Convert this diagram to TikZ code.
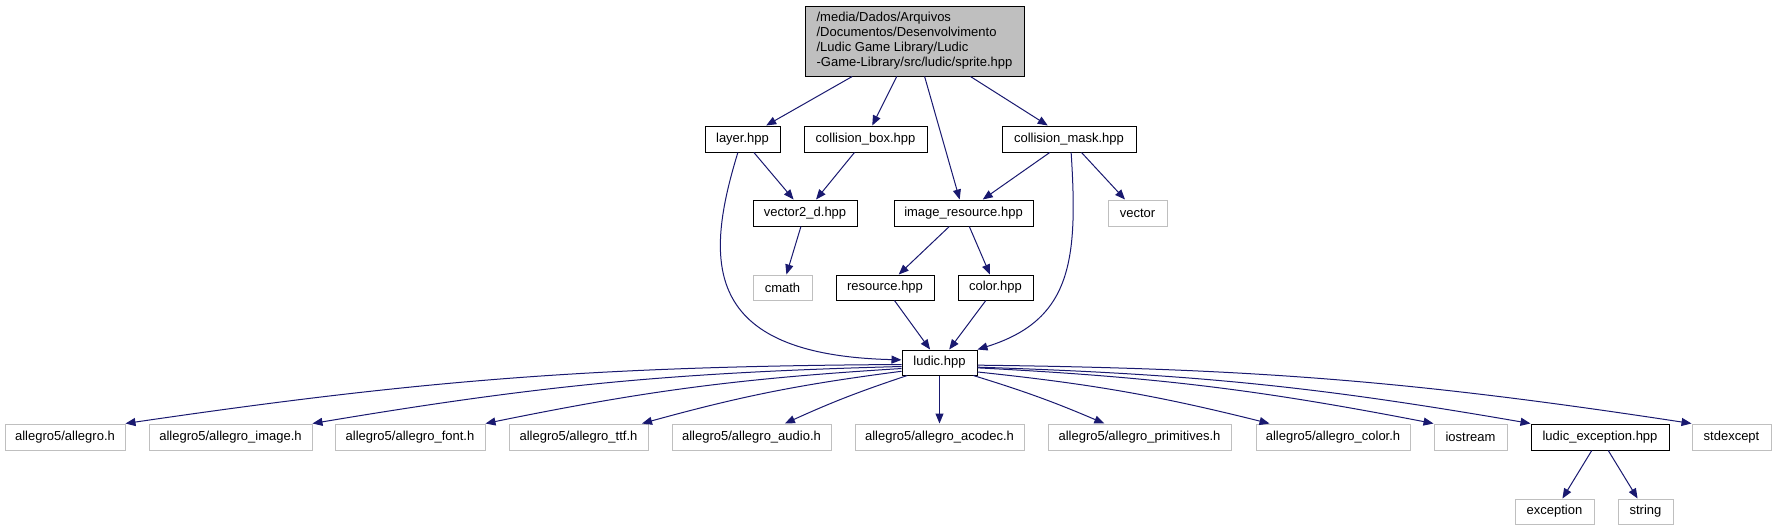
\documentclass[tikz,border=0pt]{standalone}
\usepackage{fontspec}
\setmainfont{Liberation Sans}
\usetikzlibrary{arrows.meta}
\definecolor{edgeblue}{HTML}{191970}
\definecolor{extgray}{HTML}{BFBFBF}
\begin{document}
\begin{tikzpicture}[x=1pt,y=-1pt,
  box/.style={draw=black, line width=1pt, minimum height=26pt, inner sep=0pt, font=\fontsize{13}{15}\selectfont},
  ext/.style={box, draw=extgray, line width=1pt},
  edge/.style={draw=edgeblue, line width=1pt, -{Triangle[length=10pt,width=8pt]}}
]
\useasboundingbox[fill=white] (0,0) rectangle (1777,531);
% nodes
\node[box, fill=extgray, minimum width=219pt, minimum height=70pt, align=left] (main) at (914.5,41) {/media/Dados/Arquivos\\/Documentos/Desenvolvimento\\/Ludic Game Library/Ludic\\-Game-Library/src/ludic/sprite.hpp};
\node[box, minimum width=75pt] (layer) at (742.5,139) {layer.hpp};
\node[box, minimum width=123pt] (cbox) at (865.5,139) {collision\_box.hpp};
\node[box, minimum width=134pt] (cmask) at (1069,139) {collision\_mask.hpp};
\node[box, minimum width=104pt] (v2d) at (805,213) {vector2\_d.hpp};
\node[box, minimum width=139pt] (imgres) at (963.5,213) {image\_resource.hpp};
\node[ext, minimum width=59pt] (vector) at (1137.5,213) {vector};
\node[ext, minimum width=59pt, minimum height=25pt] (cmath) at (782.5,287.5) {cmath};
\node[box, minimum width=98pt, minimum height=25pt] (res) at (885,287.5) {resource.hpp};
\node[box, minimum width=75pt, minimum height=25pt] (color) at (995.5,287.5) {color.hpp};
\node[box, minimum width=75pt, minimum height=25pt] (ludic) at (939.5,362.5) {ludic.hpp};
\node[ext, minimum width=120pt] (a1) at (65,437) {allegro5/allegro.h};
\node[ext, minimum width=163pt] (a2) at (230.5,437) {allegro5/allegro\_image.h};
\node[ext, minimum width=150pt] (a3) at (410,437) {allegro5/allegro\_font.h};
\node[ext, minimum width=139pt] (a4) at (578.5,437) {allegro5/allegro\_ttf.h};
\node[ext, minimum width=159pt] (a5) at (751.5,437) {allegro5/allegro\_audio.h};
\node[ext, minimum width=169pt] (a6) at (939.5,437) {allegro5/allegro\_acodec.h};
\node[ext, minimum width=183pt] (a7) at (1139.5,437) {allegro5/allegro\_primitives.h};
\node[ext, minimum width=154pt] (a8) at (1333,437) {allegro5/allegro\_color.h};
\node[ext, minimum width=73pt] (iostream) at (1470.5,437) {iostream};
\node[box, minimum width=138pt] (lexc) at (1600,437) {ludic\_exception.hpp};
\node[ext, minimum width=79pt] (stdexc) at (1731.5,437) {stdexcept};
\node[ext, minimum width=79pt, minimum height=25pt] (exc) at (1554.5,511.5) {exception};
\node[ext, minimum width=55pt, minimum height=25pt] (str) at (1645.5,511.5) {string};
% edges
\draw[edge] (main) -- (layer);
\draw[edge] (main) -- (cbox);
\draw[edge] (main) -- (imgres);
\draw[edge] (main) -- (cmask);
\draw[edge] (layer) -- (v2d);
\draw[edge] (layer.251) .. controls (705,260) and (700,355) .. (ludic.176);
\draw[edge] (cbox) -- (v2d);
\draw[edge] (cmask) -- (imgres);
\draw[edge] (cmask) -- (vector);
\draw[edge] (cmask.279) .. controls (1078,260) and (1072,320) .. (ludic.north east);
\draw[edge] (v2d) -- (cmath);
\draw[edge] (imgres) -- (res);
\draw[edge] (imgres) -- (color);
\draw[edge] (res) -- (ludic);
\draw[edge] (color) -- (ludic);
\draw[edge] (ludic.183) to[bend right=4] (a1.north east);
\draw[edge] (ludic.186) to[bend right=4] (a2.north east);
\draw[edge] (ludic.189) to[bend right=4] (a3.north east);
\draw[edge] (ludic.193) to[bend right=4] (a4.12.5);
\draw[edge] (ludic.202) to[bend right=3] (a5.22.4);
\draw[edge] (ludic.south) -- (a6.north);
\draw[edge] (ludic.339.5) to[bend left=3] (a7.159.4);
\draw[edge] (ludic.346) to[bend left=4] (a8.168.9);
\draw[edge] (ludic.352) to[bend left=4] (iostream.north west);
\draw[edge] (ludic.353) to[bend left=4] (lexc.north west);
\draw[edge] (ludic.356) to[bend left=4] (stdexc.north west);
\draw[edge] (lexc) -- (exc);
\draw[edge] (lexc) -- (str);
\end{tikzpicture}
\end{document}
